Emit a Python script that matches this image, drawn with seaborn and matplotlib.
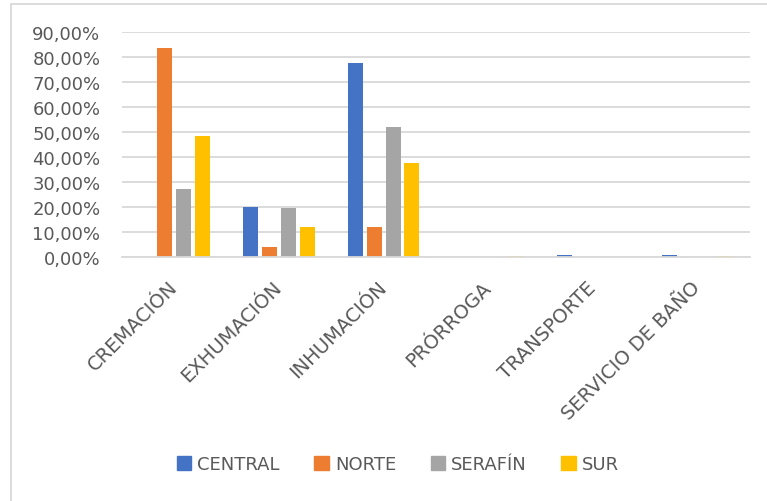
import matplotlib
matplotlib.use("Agg")
import matplotlib.pyplot as plt
import matplotlib.transforms as mtransforms
from matplotlib.lines import Line2D
from matplotlib.ticker import FuncFormatter, MultipleLocator
import seaborn as sns
import pandas as pd

categories = ["CREMACIÓN", "EXHUMACIÓN", "INHUMACIÓN", "PRÓRROGA", "TRANSPORTE", "SERVICIO DE BAÑO"]
series = ["CENTRAL", "NORTE", "SERAFÍN", "SUR"]
central = [0.0, 20.1, 77.5, 0.0, 1.0, 0.8]
norte = [83.5, 4.0, 12.0, 0.0, 0.0, 0.0]
serafin = [27.4, 19.8, 51.9, 0.0, 0.0, 0.0]
sur = [48.2, 12.0, 37.8, 0.5, 0.0, 0.3]
colors = ["#4472C4", "#ED7D31", "#A5A5A5", "#FFC000"]

rows = []
for s, vals in zip(series, [central, norte, serafin, sur]):
    for c, v in zip(categories, vals):
        rows.append({"cat": c, "serie": s, "val": v})
df = pd.DataFrame(rows)

sns.set_theme(style="white")
plt.rcParams["font.family"] = ["DejaVu Sans"]

fig = plt.figure(figsize=(7.67, 5.02), dpi=100)
ax = fig.add_axes([122/767, 1 - 258/502, (750-122)/767, (258-33)/502])

sns.barplot(data=df, x="cat", y="val", hue="serie", order=categories,
            hue_order=series, palette=colors, width=0.72, gap=0.2,
            saturation=1, ax=ax, legend=False, linewidth=0)

ax.set_ylim(0, 90)
ax.set_xlim(-0.5, len(categories) - 0.5)
ax.yaxis.set_major_locator(MultipleLocator(10))
ax.yaxis.set_major_formatter(FuncFormatter(lambda v, p: f"{v:.2f}".replace(".", ",") + "%"))
ax.grid(axis="y", color="#D9D9D9", linewidth=1.3)
ax.set_axisbelow(True)
for side in ["left", "right", "top"]:
    ax.spines[side].set_visible(False)
ax.spines["bottom"].set_color("#D9D9D9")
ax.spines["bottom"].set_linewidth(1.3)
ax.set_xlabel("")
ax.set_ylabel("")
ax.tick_params(axis="y", length=0, labelsize=13, labelcolor="#595959", pad=15.5)
ax.tick_params(axis="x", length=0, labelsize=14, labelcolor="#595959")

offset = mtransforms.ScaledTranslation(0/100, -22/100, fig.dpi_scale_trans)
ax.set_xticks(range(len(categories)))
ax.set_xticklabels(categories, rotation=45, ha="right", va="center", rotation_mode="anchor")
for lab in ax.get_xticklabels():
    lab.set_transform(lab.get_transform() + offset)

handles = [plt.Rectangle((0, 0), 1, 1, color=c) for c in colors]
fig.legend(handles, series, loc="center", bbox_to_anchor=(398/767, 1 - 465/502),
           ncol=4, frameon=False, fontsize=13, labelcolor="#595959",
           handlelength=0.8, handleheight=0.8, handletextpad=0.35, columnspacing=1.9)

fig.add_artist(Line2D([10.5/767, 10.5/767], [0, 1 - 4.5/502], transform=fig.transFigure,
                      color="#D9D9D9", linewidth=1.3))
fig.add_artist(Line2D([10.5/767, 1], [1 - 4.5/502, 1 - 4.5/502], transform=fig.transFigure,
                      color="#D9D9D9", linewidth=1.3))

fig.savefig("out.png", dpi=100)
